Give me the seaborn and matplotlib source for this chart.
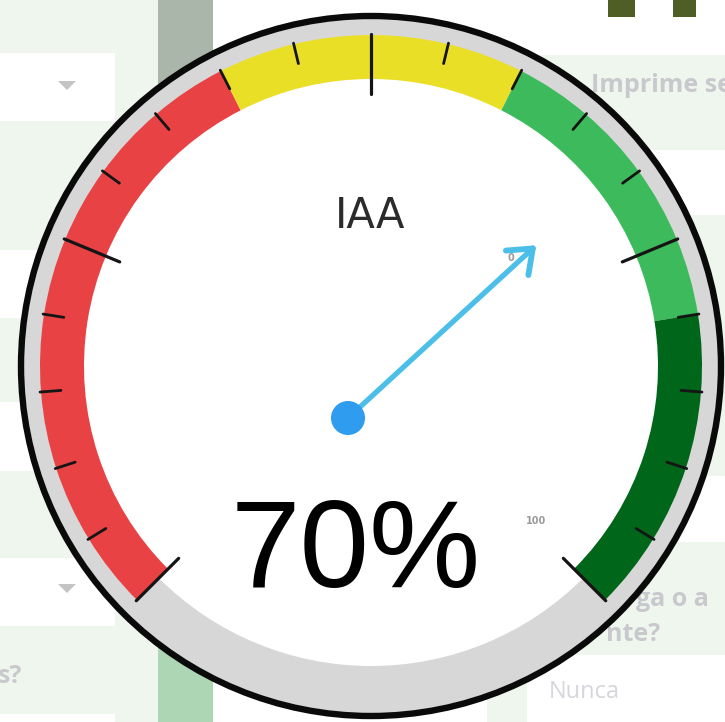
import numpy as np
import matplotlib
matplotlib.use("Agg")
import matplotlib.pyplot as plt
from matplotlib.patches import Wedge, Circle, Rectangle, Polygon
import seaborn as sns
import pandas as pd

# ---------------- data ----------------
gauge_title = "IAA"
gauge_value = 70
value_label = "70%"
scale_min, scale_max = 0, 100
band_edges = [0, 40, 60, 80, 100]
band_colors = ["#e84244", "#eadf27", "#3dbb5c", "#00661a"]
tick_values = list(range(0, 101, 5))
major_ticks = [0, 25, 50, 75, 100]
small_labels = ["0", "100"]

# background form texts (partially hidden behind the gauge)
bg_texts = ["Imprime se", "ga o a", "nte?", "Nunca", "s?"]

# ---------------- layout ----------------
W, H = 725, 722
sns.set_theme(style="white")
plt.rcParams['font.family'] = ['DejaVu Sans']

fig = plt.figure(figsize=(W / 100, H / 100), dpi=100)
ax = fig.add_axes([0, 0, 1, 1])
ax.set_xlim(0, W)
ax.set_ylim(0, H)
ax.set_aspect('equal')
ax.axis('off')
fig.patch.set_facecolor('white')


def py(y):
    return H - y


def rect(x0, y0, x1, y1, color, z=0):
    ax.add_patch(Rectangle((x0, py(y1)), x1 - x0, y1 - y0, facecolor=color,
                           edgecolor='none', zorder=z))


LG = "#eef6ee"
# left form panel
rect(0, 0, 158, 722, LG)
for (a, b) in [(53, 121), (250, 318), (402, 471), (558, 626), (714, 722)]:
    rect(0, a, 115, b, "white", 0.5)
for yy in [85, 588]:
    ax.add_patch(Polygon([(58, py(yy - 4)), (76, py(yy - 4)), (67, py(yy + 5))],
                         closed=True, facecolor="#c4c4c4", edgecolor='none', zorder=0.8))
# strip
rect(158, 0, 213, 360, "#abb6aa")
rect(158, 360, 213, 722, "#acd6b4")
# right panels
rect(540, 55, 725, 150, LG)
rect(540, 215, 725, 476, LG)
rect(487, 542, 725, 722, LG)
rect(527, 655, 725, 722, "white", 0.5)
rect(608, 0, 635, 17, "#4f5e25")
rect(673, 0, 696, 17, "#4f5e25")

bold_kw = dict(family=['Open Sans', 'DejaVu Sans'], fontweight='bold', color="#c9c9cd",
               fontsize=18, zorder=1, va='baseline', ha='left')
ax.text(591, py(92), bg_texts[0], **bold_kw)
ax.text(636, py(606), bg_texts[1], **bold_kw)
ax.text(606, py(641), bg_texts[2], **bold_kw)
ax.text(-2, py(683), bg_texts[4], **bold_kw)
ax.text(549, py(698), bg_texts[3], family=['Open Sans', 'DejaVu Sans'], color="#d6d6dc",
        fontsize=17, zorder=1, va='baseline', ha='left')

# ---------------- gauge ----------------
C = (371, py(366))
R_OUT, R_IN = 331, 287


def ang(v):
    return 225 - 270 * (v - scale_min) / (scale_max - scale_min)


def pt(r, a):
    t = np.deg2rad(a)
    return C[0] + r * np.cos(t), C[1] + r * np.sin(t)


# ring
ax.add_patch(Circle(C, 347, facecolor="#d7d7d7", edgecolor='none', zorder=2))
ax.add_patch(Circle(C, 350, facecolor='none', edgecolor="#0a0a0a", lw=4.6, zorder=2.1))
ax.add_patch(Circle(C, 300, facecolor="white", edgecolor='none', zorder=2.2))

# colour bands
for (v0, v1), col in zip(zip(band_edges[:-1], band_edges[1:]), band_colors):
    ax.add_patch(Wedge(C, R_OUT, ang(v1), ang(v0), width=R_OUT - R_IN,
                       facecolor=col, edgecolor='none', zorder=3))

# ticks
rows = []
for v in tick_values:
    major = v in major_ticks
    r_in = 272 if major else 311
    for r in (r_in, 332):
        x, y = pt(r, ang(v))
        rows.append(dict(tick=v, kind="major" if major else "minor", x=x, y=y))
ticks = pd.DataFrame(rows)
for kind, lw in [("major", 2.3), ("minor", 2.0)]:
    sub = ticks[ticks.kind == kind]
    sns.lineplot(data=sub, x="x", y="y", units="tick", estimator=None, sort=False,
                 color="#151515", lw=lw, ax=ax, legend=False, zorder=4)

# needle
pivot = (C[0] - 23, C[1] - 52)
a = ang(gauge_value)
tip = pt(200, a)
ncol = "#4cbfe8"
ax.plot([pivot[0], tip[0]], [pivot[1], tip[1]], color=ncol, lw=3.8,
        solid_capstyle='round', zorder=5)
d = np.rad2deg(np.arctan2(tip[1] - pivot[1], tip[0] - pivot[0]))
for s in (-38, 38):
    t = np.deg2rad(d + 180 + s)
    ax.plot([tip[0], tip[0] + 27 * np.cos(t)], [tip[1], tip[1] + 27 * np.sin(t)],
            color=ncol, lw=4.2, solid_capstyle='round', zorder=5)
sns.scatterplot(x=[pivot[0]], y=[pivot[1]], s=600, color="#2f9cf0", edgecolor='none',
                ax=ax, zorder=6, legend=False)

# texts
ax.text(370, py(228), gauge_title, ha='center', va='baseline', fontsize=30,
        color="#2b2b2b", zorder=6)
ax.text(356, py(587), value_label, ha='center', va='baseline', fontsize=90,
        family=['Liberation Sans', 'DejaVu Sans'], color="black", zorder=6)
ax.text(511, py(258), small_labels[0], ha='center', va='center', fontsize=7,
        fontweight='bold', color="#9a9a9a", zorder=4.5)
ax.text(536, py(521), small_labels[1], ha='center', va='center', fontsize=7,
        fontweight='bold', color="#9a9a9a", zorder=4.5)

ax.set_xlim(0, W)
ax.set_ylim(0, H)
ax.set_xlabel("")
ax.set_ylabel("")
fig.savefig("out.png", dpi=100, facecolor='white')
